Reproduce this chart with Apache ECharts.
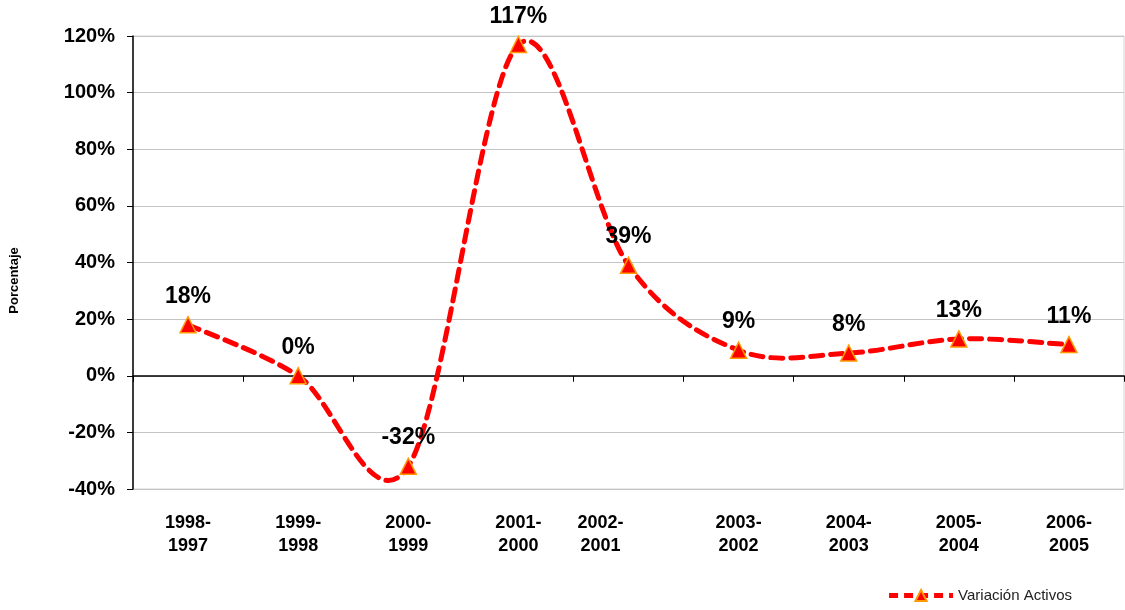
<!DOCTYPE html>
<html>
<head>
<meta charset="utf-8">
<script src="https://cdn.jsdelivr.net/npm/echarts@6/dist/echarts.min.js"></script>
<style>
  html, body { margin: 0; padding: 0; background: #fff; }
  #main { width: 1125px; height: 610px; }
</style>
</head>
<body>
<div id="main"></div>
<script>
// Variación de activos por periodo
var periodos = ['1998-\n1997', '1999-\n1998', '2000-\n1999', '2001-\n2000', '2002-\n2001',
                '2003-\n2002', '2004-\n2003', '2005-\n2004', '2006-\n2005'];
var variacion = [18, 0, -32, 117, 39, 9, 8, 13, 11];
var yTicks = { min: -40, max: 120, interval: 20 };

var chart = echarts.init(document.getElementById('main'));

var fuente = 'Liberation Sans, Arial, sans-serif';
var rojo = '#ff0000';

// etiquetas del eje inferior (la de 2002-2001 va corrida a la izquierda)
var etiquetas = periodos.map(function (p, i) {
  if (i === 4) {
    return { value: p, textStyle: { padding: [0, 56, 0, 0] } };
  }
  return p;
});

// curva suavizada tipo Excel (catmull-rom) pasando por los puntos del eje
function curvaSuave(params, api) {
  if (params.dataIndex !== 0) return null;
  var pts = variacion.map(function (v, i) { return api.coord([i, v]); });
  var d = 'M' + pts[0][0] + ' ' + pts[0][1];
  for (var i = 0; i < pts.length - 1; i++) {
    var p0 = pts[i - 1] || pts[i];
    var p1 = pts[i];
    var p2 = pts[i + 1];
    var p3 = pts[i + 2] || pts[i + 1];
    var c1x = p1[0] + (p2[0] - p0[0]) / 6;
    var c1y = p1[1] + (p2[1] - p0[1]) / 6;
    var c2x = p2[0] - (p3[0] - p1[0]) / 6;
    var c2y = p2[1] - (p3[1] - p1[1]) / 6;
    d += ' C' + c1x + ' ' + c1y + ' ' + c2x + ' ' + c2y + ' ' + p2[0] + ' ' + p2[1];
  }
  return {
    type: 'path',
    shape: { pathData: d },
    style: {
      fill: null,
      stroke: rojo,
      lineWidth: 5,
      lineDash: [12, 8],
      lineCap: 'round'
    }
  };
}

var option = {
  animation: false,
  grid: {
    left: 131,
    right: 1,
    top: 36,
    bottom: 121,
    show: true,
    backgroundColor: '#fff',
    borderColor: '#d4d4d4',
    borderWidth: 1
  },
  legend: {
    right: 48,
    bottom: 2,
    itemWidth: 64,
    itemHeight: 14,
    itemGap: 2,
    lineStyle: { width: 5, type: [9, 6], color: rojo, opacity: 1 },
    textStyle: {
      fontFamily: fuente,
      fontSize: 15,
      color: '#222'
    },
    data: ['Variación Activos']
  },
  xAxis: [
    {
      // eje en el cero con marcas
      type: 'category',
      data: periodos,
      boundaryGap: true,
      axisLine: { onZero: true, lineStyle: { color: '#000', width: 1.5 } },
      axisTick: { show: true, length: 6, lineStyle: { color: '#000' } },
      axisLabel: { show: false },
      splitLine: { show: false }
    },
    {
      // etiquetas abajo
      type: 'category',
      data: etiquetas,
      position: 'bottom',
      boundaryGap: true,
      axisLine: { show: false, onZero: false },
      axisTick: { show: false },
      axisLabel: {
        margin: 23,
        fontFamily: fuente,
        fontSize: 18,
        fontWeight: 'bold',
        color: '#000',
        lineHeight: 23,
        interval: 0
      }
    }
  ],
  yAxis: {
    type: 'value',
    min: yTicks.min,
    max: yTicks.max,
    interval: yTicks.interval,
    name: 'Porcentaje',
    nameLocation: 'middle',
    nameGap: 112,
    nameRotate: 90,
    nameTextStyle: {
      fontFamily: fuente,
      fontSize: 13,
      fontWeight: 'bold',
      color: '#000',
      padding: [0, 0, 0, -36]
    },
    axisLine: { show: true, lineStyle: { color: '#000', width: 1.5 } },
    axisTick: { show: true, length: 6, lineStyle: { color: '#000' } },
    axisLabel: {
      margin: 18,
      fontFamily: fuente,
      fontSize: 20,
      fontWeight: 'bold',
      color: '#000',
      formatter: '{value}%'
    },
    splitLine: { lineStyle: { color: '#c4c4c4', width: 1.2 } }
  },
  series: [
    {
      name: 'curva',
      type: 'custom',
      xAxisIndex: 0,
      renderItem: curvaSuave,
      data: variacion.map(function (v, i) { return [i, v]; }),
      encode: { x: 0, y: 1 },
      silent: true,
      z: 2
    },
    {
      name: 'Variación Activos',
      type: 'line',
      xAxisIndex: 0,
      data: variacion,
      symbol: 'triangle',
      symbolSize: 16,
      itemStyle: {
        color: rojo,
        borderColor: '#ff9900',
        borderWidth: 1.5
      },
      lineStyle: { width: 0, opacity: 0 },
      label: {
        show: true,
        position: 'top',
        distance: 8,
        formatter: '{c}%',
        fontFamily: fuente,
        fontSize: 23,
        fontWeight: 'bold',
        color: '#000'
      },
      z: 3
    }
  ]
};

chart.setOption(option);
</script>
</body>
</html>
